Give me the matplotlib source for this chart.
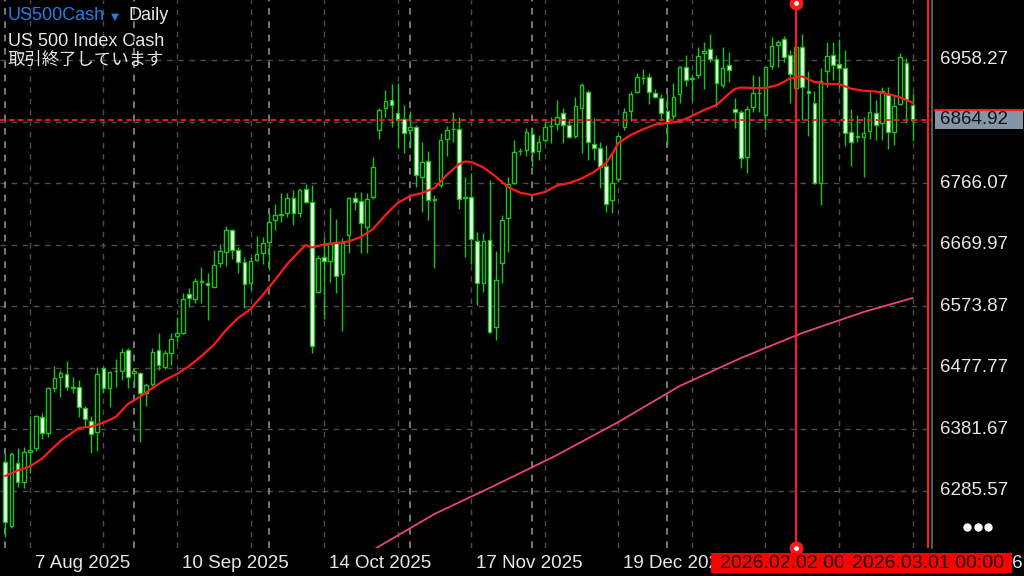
import matplotlib
matplotlib.use('Agg')
import matplotlib.pyplot as plt
from matplotlib.patches import Rectangle
from matplotlib.lines import Line2D
from matplotlib.transforms import blended_transform_factory
import numpy as np

plt.rcParams['font.family'] = ['Liberation Sans', 'Noto Sans CJK JP', 'DejaVu Sans']

# daily OHLC, bar 0 = 1 Aug 2025, last bar = 27 Feb 2026
opens = [6331.3, 6231.4, 6329.7, 6300.1, 6347.2, 6352.2, 6400.6, 6375.6, 6445.8, 6463.9,
         6467.7, 6447.9, 6448.3, 6415.1, 6395.3, 6377.2, 6477.1, 6445.8, 6472.8, 6473.3,
         6505.6, 6469.2, 6469.2, 6438.0, 6452.6, 6505.6, 6478.6, 6501.4, 6527.5, 6531.7,
         6592.6, 6585.2, 6611.8, 6609.7, 6604.4, 6641.9, 6659.0, 6692.9, 6661.7, 6642.5,
         6610.7, 6646.1, 6657.5, 6674.7, 6708.5, 6716.8, 6719.9, 6742.4, 6719.9, 6756.4,
         6736.1, 6595.7, 6651.2, 6645.0, 6674.7, 6623.8, 6685.1, 6742.4, 6738.6, 6698.1,
         6743.9, 6849.0, 6882.9, 6895.8, 6875.1, 6865.7, 6849.0, 6854.1, 6775.2, 6801.1,
         6740.5, 6763.2, 6834.5, 6849.8, 6850.1, 6743.6, 6743.9, 6676.2, 6610.7, 6677.3,
         6542.0, 6640.9, 6711.2, 6766.7, 6815.7, 6817.8, 6842.8, 6816.7, 6833.4, 6855.2,
         6858.4, 6875.1, 6856.8, 6839.6, 6882.9, 6908.8, 6827.1, 6820.4, 6792.8, 6739.7,
         6772.0, 6853.2, 6879.1, 6908.8, 6929.4, 6931.2, 6907.2, 6898.5, 6879.1, 6870.8,
         6905.2, 6946.9, 6928.6, 6934.8, 6968.7, 6975.0, 6959.3, 6919.2, 6950.4, 6881.3,
         6876.6, 6806.4, 6885.4, 6906.0, 6872.4, 6948.9, 6981.7, 6990.6, 6966.1, 6914.1,
         6979.0, 6910.3, 6891.6, 6765.8, 6941.6, 6966.1, 6951.5, 6945.3, 6846.3, 6838.1,
         6838.5, 6847.9, 6875.1, 6860.4, 6903.6, 6846.3, 6889.6, 6953.1, 6888.0]
highs = [6344.9, 6346.4, 6352.7, 6354.7, 6402.6, 6404.2, 6407.8, 6447.4, 6480.6, 6474.4,
         6488.5, 6463.9, 6458.8, 6418.2, 6402.6, 6479.6, 6478.6, 6473.3, 6491.1, 6508.3,
         6508.3, 6477.1, 6471.7, 6453.6, 6508.3, 6532.6, 6505.6, 6531.7, 6557.6, 6594.1,
         6601.9, 6617.5, 6634.7, 6625.3, 6661.7, 6671.1, 6699.2, 6694.0, 6666.9, 6650.3,
         6650.3, 6683.6, 6682.5, 6719.0, 6733.5, 6751.1, 6750.2, 6755.3, 6758.0, 6764.7,
         6763.2, 6653.9, 6682.5, 6727.7, 6709.6, 6680.0, 6744.9, 6752.7, 6752.7, 6750.2,
         6806.4, 6882.9, 6911.4, 6920.8, 6922.8, 6888.0, 6879.1, 6856.8, 6830.7, 6816.2,
         6747.5, 6843.8, 6855.2, 6877.6, 6869.8, 6775.2, 6781.4, 6690.3, 6688.7, 6771.0,
         6660.6, 6716.3, 6776.1, 6833.4, 6820.4, 6851.6, 6854.1, 6841.2, 6861.9, 6869.8,
         6895.8, 6882.9, 6864.6, 6900.0, 6922.8, 6911.4, 6867.3, 6830.7, 6825.6, 6815.1,
         6841.2, 6882.9, 6910.3, 6937.5, 6943.7, 6937.5, 6912.5, 6905.2, 6905.2, 6921.9,
         6948.9, 6966.1, 6936.4, 6979.0, 6986.8, 6998.8, 6966.1, 6979.0, 6971.2, 6898.5,
         6880.2, 6886.5, 6934.8, 6933.3, 6947.8, 6994.0, 6990.0, 6996.0, 6973.9, 6979.0,
         6999.0, 6941.6, 6910.3, 6945.3, 6986.8, 6986.8, 6990.6, 6973.9, 6881.3, 6872.4,
         6868.8, 6908.8, 6895.8, 6915.6, 6916.6, 6903.6, 6969.6, 6960.9, 6906.3]
lows = [6213.7, 6227.8, 6292.3, 6289.8, 6313.6, 6348.4, 6366.2, 6370.3, 6440.5, 6432.7,
        6443.2, 6438.0, 6401.5, 6385.9, 6345.3, 6348.4, 6438.0, 6417.1, 6447.4, 6458.8,
        6445.8, 6449.4, 6362.5, 6418.2, 6449.4, 6474.4, 6475.5, 6482.2, 6518.6, 6530.6,
        6573.2, 6579.4, 6579.4, 6552.4, 6603.5, 6635.6, 6636.7, 6647.2, 6625.3, 6570.7,
        6599.3, 6645.0, 6639.8, 6630.5, 6692.9, 6705.9, 6713.7, 6700.7, 6713.7, 6734.3,
        6500.5, 6594.6, 6553.5, 6612.2, 6594.1, 6535.7, 6657.5, 6724.1, 6656.6, 6656.6,
        6741.3, 6834.5, 6868.8, 6854.1, 6820.4, 6813.6, 6820.4, 6759.6, 6721.5, 6708.5,
        6633.1, 6760.5, 6808.4, 6830.7, 6725.2, 6651.2, 6639.8, 6575.9, 6596.6, 6531.7,
        6521.2, 6610.7, 6659.0, 6764.7, 6810.0, 6808.4, 6790.8, 6802.2, 6830.3, 6828.2,
        6849.0, 6828.2, 6836.0, 6836.5, 6812.6, 6802.2, 6802.2, 6758.0, 6721.0, 6719.0,
        6768.3, 6849.0, 6863.5, 6907.2, 6920.8, 6889.6, 6898.5, 6864.6, 6824.0, 6865.7,
        6890.7, 6917.7, 6894.7, 6930.2, 6912.5, 6955.1, 6885.4, 6914.5, 6924.4, 6851.6,
        6789.2, 6782.4, 6877.6, 6877.1, 6849.0, 6943.7, 6947.8, 6955.1, 6891.6, 6869.8,
        6864.6, 6839.6, 6764.2, 6731.9, 6916.6, 6927.0, 6914.1, 6824.0, 6792.8, 6830.3,
        6776.1, 6834.5, 6833.4, 6833.4, 6818.9, 6825.6, 6888.0, 6860.4, 6832.3]
closes = [6237.6, 6343.3, 6300.1, 6346.0, 6348.8, 6402.6, 6375.6, 6445.8, 6461.5, 6469.2,
          6447.4, 6446.8, 6417.1, 6398.4, 6374.5, 6467.7, 6445.8, 6471.7, 6473.6, 6503.0,
          6463.9, 6473.3, 6438.0, 6451.0, 6503.0, 6482.2, 6500.5, 6522.8, 6531.7, 6585.2,
          6586.3, 6613.3, 6612.8, 6606.6, 6638.3, 6660.1, 6692.9, 6661.7, 6642.5, 6608.2,
          6645.0, 6655.5, 6672.2, 6705.9, 6716.3, 6717.9, 6742.4, 6719.0, 6755.3, 6736.1,
          6511.9, 6648.7, 6645.0, 6672.2, 6621.1, 6673.1, 6742.4, 6737.1, 6703.4, 6740.8,
          6790.8, 6880.2, 6894.7, 6887.5, 6864.6, 6843.8, 6854.1, 6778.8, 6798.6, 6739.7,
          6741.3, 6833.4, 6849.0, 6850.6, 6740.8, 6744.4, 6678.4, 6609.7, 6676.2, 6534.2,
          6614.9, 6708.5, 6764.7, 6815.1, 6816.7, 6846.3, 6815.1, 6830.7, 6854.1, 6856.0,
          6869.8, 6856.8, 6838.5, 6886.5, 6919.2, 6830.7, 6820.4, 6791.7, 6733.5, 6766.7,
          6839.6, 6877.6, 6905.2, 6931.2, 6930.2, 6908.8, 6900.0, 6876.0, 6861.9, 6900.0,
          6946.9, 6927.0, 6929.4, 6964.5, 6972.8, 6959.3, 6921.9, 6945.3, 6942.6, 6877.6,
          6804.8, 6881.3, 6907.2, 6906.7, 6946.9, 6980.1, 6986.8, 6962.5, 6936.4, 6978.1,
          6915.6, 6906.3, 6766.7, 6925.9, 6964.5, 6950.4, 6945.3, 6843.8, 6830.7, 6838.9,
          6844.8, 6877.1, 6856.8, 6910.3, 6846.3, 6886.5, 6962.5, 6895.8, 6864.92]

# moving averages (bar index, value)
ma_fast_bars = [0, 2, 4, 6, 9, 12, 14, 16, 18, 20, 22, 24, 26, 28, 30, 32, 34, 36, 38, 40,
                42, 44, 46, 48, 49, 50, 52, 54, 56, 58, 60, 62, 64, 66, 68, 70, 72, 74, 75, 76,
                78, 80, 82, 84, 86, 88, 90, 92, 94, 96, 98, 99, 100, 102, 104, 106, 108, 110, 112, 114,
                116, 118, 119, 120, 122, 124, 126, 128, 130, 132, 134, 136, 138, 140, 142, 144, 146, 148]
ma_fast = [6309.0, 6317.5, 6323.8, 6336.3, 6363.6, 6383.9, 6385.9, 6392.2, 6401.0, 6421.3,
           6432.7, 6446.3, 6458.8, 6468.2, 6480.6, 6496.3, 6513.4, 6536.8, 6555.6, 6569.6,
           6591.5, 6614.9, 6639.8, 6660.1, 6669.5, 6665.6, 6670.3, 6672.6, 6675.0, 6682.0,
           6694.5, 6716.3, 6735.1, 6746.0, 6750.7, 6758.5, 6778.8, 6795.9, 6799.8, 6799.1,
           6790.5, 6776.4, 6760.0, 6751.1, 6747.5, 6752.2, 6762.4, 6766.3, 6773.3, 6783.4,
           6797.5, 6811.5, 6828.7, 6841.2, 6849.8, 6857.6, 6859.9, 6862.3, 6870.8, 6880.2,
           6888.0, 6905.2, 6913.0, 6915.3, 6914.5, 6914.5, 6919.2, 6929.4, 6932.5, 6923.9,
           6920.8, 6920.8, 6913.5, 6910.2, 6909.1, 6905.2, 6899.7, 6891.6]
ma_slow_bars = [58, 70, 80, 90, 100, 110, 120, 130, 140, 148]
ma_slow = [6182.5, 6249.6, 6294.9, 6341.7, 6393.2, 6449.4, 6493.1, 6532.2, 6564.9, 6586.8]

price_ticks = [6958.27, 6862.17, 6766.07, 6669.97, 6573.87, 6477.77, 6381.67, 6285.57]
grid_bars = [4, 16, 28, 40, 52, 64, 76, 88, 100, 112, 124, 136, 148]
month_bars = [0, 21, 43, 66, 86, 108]
date_bars = [4, 28, 52, 76, 100, 124, 148]
date_labels = ['7 Aug 2025', '10 Sep 2025', '14 Oct 2025', '17 Nov 2025',
               '19 Dec 2025', '22 Jan 2026', '27 Feb 2026']
sep_bars = [129, 150.5]
sep_labels = ['2026.02.02 00:00', '2026.03.01 00:00']

GREEN = '#17c617'
RED = '#ff1a1a'
TXT = '#e8e8e8'

o = np.array(opens)
h = np.array(highs)
l = np.array(lows)
c = np.array(closes)
x = np.arange(len(o))

fig = plt.figure(figsize=(10.24, 5.76), dpi=100, facecolor='black')
ax = fig.add_axes([0, 28 / 576, 932 / 1024, 548 / 576])
ax.set_facecolor('black')
ax.set_xlim(-0.865, 151.17)
ax.set_ylim(6196.6, 7051.9)
for s in ['top', 'left', 'bottom']:
    ax.spines[s].set_visible(False)
ax.spines['right'].set_color('#6a6a6a')
ax.spines['right'].set_linewidth(1.2)
ax.set_xticks([])
ax.set_yticks([])

# grid
for p in price_ticks:
    ax.axhline(p, color='#4d4d4d', lw=1, ls=(0, (4, 4)), zorder=1)
for b in grid_bars:
    ax.axvline(b, color='#4d4d4d', lw=1, ls=(0, (4, 4)), zorder=1)
for b in month_bars:
    ax.axvline(b, color='#8c8c8c', lw=1.2, ls=(0, (4, 4)), zorder=1)

# moving averages
ax.plot(ma_slow_bars, ma_slow, color='#e8457e', lw=1.3, zorder=2)
ax.plot(ma_fast_bars, ma_fast, color=RED, lw=1.6, zorder=5)

# candles (white body = down day, black body = up day)
fills = np.where(c < o, 'white', 'black')
ax.vlines(x, l, h, color=GREEN, lw=1, zorder=3)
ax.bar(x, np.maximum(np.abs(c - o), 0.4), bottom=np.minimum(o, c), width=0.6,
       color=fills, edgecolor=GREEN, linewidth=1, zorder=4)

# current price line
ax.axhline(c[-1], color=RED, lw=1.3, ls=(0, (3, 2)), zorder=6)

# period separators
for b in sep_bars:
    ax.axvline(b, color=RED, lw=1.5, zorder=7)
xt = ax.get_xaxis_transform()
ax.plot([sep_bars[0]], [1 - 3 / 548], marker='o', ms=9, color=RED, transform=xt, clip_on=False, zorder=8)
ax.plot([sep_bars[0]], [1 - 3 / 548], marker='o', ms=2.5, color='white', transform=xt, clip_on=False, zorder=9)
ax.plot([sep_bars[0]], [0], marker='o', ms=9, color=RED, transform=xt, clip_on=False, zorder=8)
ax.plot([sep_bars[0]], [0], marker='o', ms=2.5, color='white', transform=xt, clip_on=False, zorder=9)

# price scale
ty = blended_transform_factory(fig.transFigure, ax.transData)
for p in price_ticks:
    fig.text(940 / 1024, p, f'{p:.2f}', transform=ty, color=TXT, fontsize=13.5,
             va='center', ha='left', zorder=5)
box_h = 30
fig.add_artist(Rectangle((935 / 1024, c[-1] - box_h / 2), 88 / 1024, box_h,
                         transform=ty, facecolor='#8595a8', edgecolor='none', zorder=6))
fig.add_artist(Line2D([935 / 1024, 1], [c[-1] + box_h / 2] * 2, transform=ty,
                      color=RED, lw=1.5, zorder=7))
fig.text(940 / 1024, c[-1], f'{c[-1]:.2f}', transform=ty, color='#111111', fontsize=13.5,
         va='center', ha='left', zorder=8)

# time scale
tx = blended_transform_factory(ax.transData, fig.transFigure)
for b, lab in zip(date_bars, date_labels):
    fig.text(b + 0.8, 13 / 576, lab, transform=tx, color=TXT, fontsize=13.5,
             va='center', ha='left', zorder=10)
for k, (b, lab) in enumerate(zip(sep_bars, sep_labels)):
    fig.add_artist(Rectangle((b - 13.8, 3 / 576), 27.6, 20 / 576, transform=tx,
                             facecolor='#ff0000', edgecolor='none', zorder=11 + 2 * k))
    fig.text(b, 13 / 576, lab, transform=tx, color='#111111', fontsize=14,
             va='center', ha='center', zorder=12 + 2 * k)

# header
fig.text(8 / 1024, 1 - 16 / 576, 'US500Cash', color='#1f80ea', fontsize=13, va='center')
fig.text(111 / 1024, 1 - 17 / 576, '▼', color='#1f80ea', fontsize=7.5, va='center',
         family=['DejaVu Sans'])
fig.text(128 / 1024, 1 - 16 / 576, 'Daily', color=TXT, fontsize=13, va='center')
fig.text(8 / 1024, 1 - 41 / 576, 'US 500 Index Cash', color=TXT, fontsize=13, va='center')
fig.text(7 / 1024, 1 - 60 / 576, '取引終了しています', color=TXT, fontsize=12.5, va='center',
         family=['Noto Sans CJK JP', 'DejaVu Sans'])

# menu dots
fig.add_artist(Line2D([967 / 1024, 978 / 1024, 988 / 1024], [1 - 527 / 576] * 3,
                      transform=fig.transFigure, ls='none', marker='o', ms=5,
                      color='white', zorder=10))

fig.savefig('out.png', dpi=100, facecolor='black')
